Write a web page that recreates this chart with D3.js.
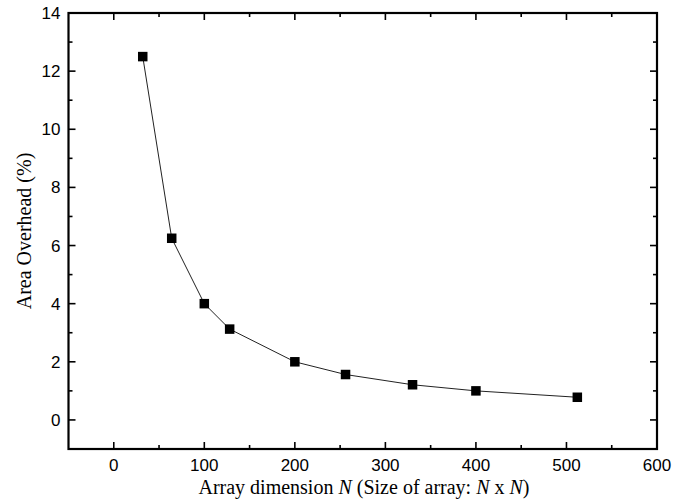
<!DOCTYPE html>
<html>
<head>
<meta charset="utf-8">
<script src="https://cdn.jsdelivr.net/npm/d3@7"></script>
<style>
  html, body { margin: 0; padding: 0; background: #fff; }
  svg { display: block; }
  .tick-label { font-family: "Liberation Sans", Arial, sans-serif; font-size: 17px; fill: #000; }
  .axis-title { font-family: "Liberation Serif", "Times New Roman", serif; font-size: 20px; fill: #000; }
</style>
</head>
<body>
<svg id="chart" width="684" height="501"></svg>
<script>
// ── Data ────────────────────────────────────────────────────────────────
const arraySizes = [32, 64, 100, 128, 200, 256, 330, 400, 512];
const areaOverhead = [12.5, 6.25, 4.0, 3.125, 2.0, 1.5625, 1.21, 1.0, 0.78];
const xTickValues = [0, 100, 200, 300, 400, 500, 600];
const yTickValues = [0, 2, 4, 6, 8, 10, 12, 14];

// ── Layout ──────────────────────────────────────────────────────────────
const PLOT = {left: 68.5, right: 657, top: 13, bottom: 449};
const MAJOR_TICK = 7;
const MINOR_TICK = 4;

const svg = d3.select('#chart');

const xScale = d3.scaleLinear().domain([-50, 600]).range([PLOT.left, PLOT.right]);
const yScale = d3.scaleLinear().domain([-1, 14]).range([PLOT.bottom, PLOT.top]);

const xMinor = d3.range(-50, 601, 50).filter((v) => !xTickValues.includes(v) && v > -50 && v < 600);
const yMinor = d3.range(-1, 14, 1).filter((v) => !yTickValues.includes(v) && v > -1);

// inward ticks on all four sides, labels only on bottom / left
const frame = svg.append('g');

function drawTicks(values, len, side)
{
	values.forEach((v) =>
	{
		let x1, y1, x2, y2;
		if(side === 'bottom') { x1 = x2 = xScale(v); y1 = PLOT.bottom; y2 = PLOT.bottom - len; }
		if(side === 'top') { x1 = x2 = xScale(v); y1 = PLOT.top; y2 = PLOT.top + len; }
		if(side === 'left') { y1 = y2 = yScale(v); x1 = PLOT.left; x2 = PLOT.left + len; }
		if(side === 'right') { y1 = y2 = yScale(v); x1 = PLOT.right; x2 = PLOT.right - len; }
		frame.append('line')
		.attr('x1', x1).attr('y1', y1).attr('x2', x2).attr('y2', y2)
		.attr('stroke', '#000').attr('stroke-width', 1.6);
	});
}

['bottom', 'top'].forEach((side) =>
{
	drawTicks(xTickValues.filter((v) => v < 600), MAJOR_TICK, side);
	drawTicks(xMinor, MINOR_TICK, side);
});
['left', 'right'].forEach((side) =>
{
	drawTicks(yTickValues.filter((v) => v < 14), MAJOR_TICK, side);
	drawTicks(yMinor, MINOR_TICK, side);
});

frame.append('rect')
.attr('x', PLOT.left).attr('y', PLOT.top)
.attr('width', PLOT.right - PLOT.left).attr('height', PLOT.bottom - PLOT.top)
.attr('fill', 'none').attr('stroke', '#000').attr('stroke-width', 2.2);

// tick labels
svg.append('g').selectAll('text')
.data(xTickValues)
.join('text')
.attr('class', 'tick-label')
.attr('x', (d) => xScale(d))
.attr('y', PLOT.bottom + 22)
.attr('text-anchor', 'middle')
.text((d) => d);

svg.append('g').selectAll('text')
.data(yTickValues)
.join('text')
.attr('class', 'tick-label')
.attr('x', PLOT.left - 8)
.attr('y', (d) => yScale(d) + 6)
.attr('text-anchor', 'end')
.text((d) => d);

// axis titles
const xTitle = svg.append('text')
.attr('class', 'axis-title')
.attr('x', 364)
.attr('y', 494)
.attr('text-anchor', 'middle');
xTitle.append('tspan').text('Array dimension ');
xTitle.append('tspan').attr('font-style', 'italic').text('N');
xTitle.append('tspan').text(' (Size of array: ');
xTitle.append('tspan').attr('font-style', 'italic').text('N');
xTitle.append('tspan').text(' x ');
xTitle.append('tspan').attr('font-style', 'italic').text('N');
xTitle.append('tspan').text(')');

svg.append('text')
.attr('class', 'axis-title')
.attr('transform', `translate(31, 231) rotate(-90)`)
.attr('text-anchor', 'middle')
.text('Area Overhead (%)');

// data line + markers
const points = arraySizes.map((n, i) => ({n, v: areaOverhead[i]}));

svg.append('path')
.datum(points)
.attr('fill', 'none')
.attr('stroke', '#222')
.attr('stroke-width', 1)
.attr('d', d3.line().x((d) => xScale(d.n)).y((d) => yScale(d.v)));

const MARK = 9.5;
svg.append('g').selectAll('rect')
.data(points)
.join('rect')
.attr('x', (d) => xScale(d.n) - MARK / 2)
.attr('y', (d) => yScale(d.v) - MARK / 2)
.attr('width', MARK)
.attr('height', MARK)
.attr('fill', '#000');
</script>
</body>
</html>
